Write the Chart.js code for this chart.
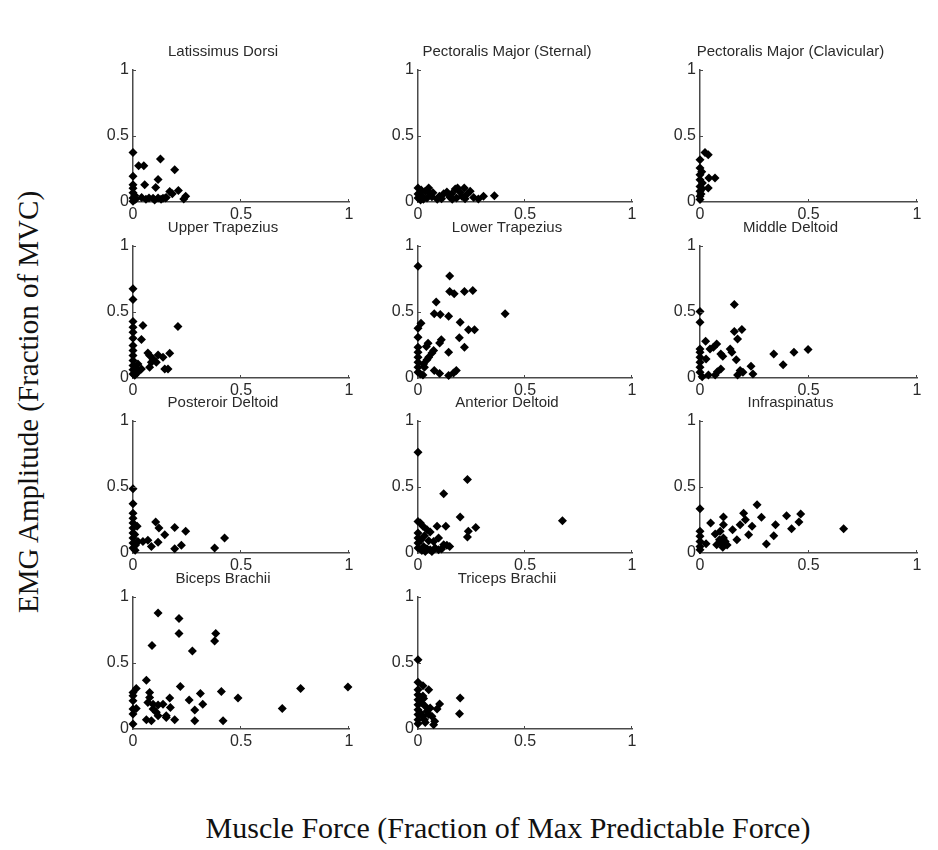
<!DOCTYPE html>
<html>
<head>
<meta charset="utf-8">
<script src="https://cdn.jsdelivr.net/npm/chart.js@4.4.0/dist/chart.umd.min.js"></script>
<style>
  body { margin: 0; background: #fff; }
  #page { position: relative; width: 938px; height: 850px; background: #fff; overflow: hidden; }
  #page canvas { position: absolute; }
  .axis-title {
    position: absolute;
    font-family: "Liberation Serif", "Times New Roman", serif;
    font-size: 30px;
    color: #111;
    white-space: nowrap;
    transform: translate(-50%, -50%);
  }
  #ylabel { left: 28px; top: 402px; font-size: 29px; transform: translate(-50%, -50%) rotate(-90deg); }
  #xlabel { left: 508px; top: 828px; }
</style>
</head>
<body>
<div id="page">
  <div class="axis-title" id="ylabel">EMG Amplitude (Fraction of MVC)</div>
  <div class="axis-title" id="xlabel">Muscle Force (Fraction of Max Predictable Force)</div>
</div>
<script>
// [force, emg] pairs for each muscle
const latissimusDorsi = [
  [0, 0.375], [0, 0.195], [0, 0.13], [0, 0.105], [0, 0.07], [0, 0.03], [0, 0.005],
  [0.026, 0.275], [0.05, 0.275], [0.127, 0.325], [0.054, 0.13], [0.116, 0.17],
  [0.105, 0.11], [0.193, 0.245], [0.17, 0.08], [0.182, 0.063], [0.21, 0.088],
  [0.244, 0.043], [0.235, 0.023], [0.04, 0.035], [0.074, 0.03], [0.093, 0.028],
  [0.116, 0.03], [0.139, 0.028], [0.154, 0.035], [0.012, 0.02], [0.06, 0.02],
  [0.1, 0.015], [0.13, 0.02], [0.008, 0.05], [0.15, 0.03]
];
const pectoralisSternal = [
  [0, 0.106], [0, 0.06], [0, 0.03], [0.008, 0.068], [0.019, 0.043], [0.034, 0.081],
  [0.05, 0.106], [0.057, 0.063], [0.042, 0.03], [0.065, 0.04], [0.1, 0.043],
  [0.12, 0.063], [0.135, 0.076], [0.148, 0.038], [0.158, 0.063], [0.174, 0.098],
  [0.185, 0.106], [0.197, 0.073], [0.205, 0.043], [0.216, 0.106], [0.231, 0.063],
  [0.244, 0.081], [0.282, 0.023], [0.306, 0.043], [0.357, 0.048], [0.012, 0.015],
  [0.025, 0.02], [0.09, 0.02], [0.11, 0.025], [0.16, 0.02], [0.18, 0.03],
  [0.22, 0.025], [0.26, 0.035], [0.015, 0.09], [0.07, 0.07]
];
const pectoralisClavicular = [
  [0, 0.32], [0.023, 0.375], [0.038, 0.358], [0, 0.257], [0, 0.207], [0, 0.169],
  [0, 0.118], [0, 0.081], [0, 0.043], [0, 0.018], [0.041, 0.181], [0.069, 0.181],
  [0.038, 0.106], [0.011, 0.143], [0.008, 0.23], [0.005, 0.06], [0.01, 0.1]
];
const upperTrapezius = [
  [0, 0.676], [0, 0.595], [0, 0.428], [0, 0.385], [0, 0.347], [0, 0.301], [0, 0.246],
  [0, 0.208], [0, 0.17], [0, 0.132], [0, 0.094], [0, 0.063], [0, 0.03],
  [0.046, 0.397], [0.039, 0.291], [0.208, 0.39], [0.069, 0.19], [0.077, 0.17],
  [0.085, 0.119], [0.077, 0.081], [0.093, 0.144], [0.116, 0.175], [0.139, 0.157],
  [0.17, 0.187], [0.108, 0.119], [0.147, 0.068], [0.162, 0.068], [0.039, 0.068],
  [0.023, 0.106], [0.012, 0.05], [0.01, 0.08], [0.008, 0.02], [0.02, 0.04]
];
const lowerTrapezius = [
  [0, 0.846], [0.148, 0.772], [0.148, 0.656], [0.169, 0.638], [0.217, 0.656],
  [0.256, 0.663], [0.085, 0.575], [0.076, 0.486], [0.104, 0.481], [0.143, 0.468],
  [0.407, 0.486], [0.197, 0.423], [0.014, 0.415], [0, 0.377], [0.236, 0.365],
  [0.264, 0.365], [0.193, 0.304], [0.109, 0.289], [0.101, 0.266], [0, 0.309],
  [0.047, 0.263], [0.039, 0.238], [0.217, 0.233], [0.073, 0.208], [0.065, 0.19],
  [0.143, 0.195], [0.05, 0.157], [0.042, 0.139], [0.026, 0.106], [0.03, 0.081],
  [0, 0.233], [0, 0.195], [0, 0.157], [0, 0.119], [0, 0.081], [0, 0.043],
  [0.076, 0.056], [0.101, 0.035], [0.179, 0.056], [0.166, 0.038], [0.143, 0.018],
  [0.023, 0.023], [0.011, 0.03]
];
const middleDeltoid = [
  [0, 0.504], [0, 0.423], [0.158, 0.557], [0.158, 0.352], [0.193, 0.367],
  [0.173, 0.296], [0.026, 0.278], [0.077, 0.258], [0.062, 0.233], [0.046, 0.22],
  [0.139, 0.22], [0.147, 0.195], [0.096, 0.182], [0.105, 0.165], [0.34, 0.182],
  [0.433, 0.195], [0.498, 0.215], [0.167, 0.139], [0.383, 0.101], [0.028, 0.144],
  [0.235, 0.089], [0.096, 0.068], [0.08, 0.048], [0.07, 0.023], [0.185, 0.056],
  [0.198, 0.043], [0.173, 0.023], [0.244, 0.03], [0, 0.22], [0, 0.195], [0, 0.157],
  [0, 0.119], [0, 0.081], [0, 0.043], [0.039, 0.023], [0.01, 0.01]
];
const posteriorDeltoid = [
  [0, 0.486], [0, 0.373], [0, 0.302], [0, 0.264], [0, 0.227], [0, 0.189], [0, 0.151],
  [0, 0.113], [0, 0.076], [0, 0.038], [0.019, 0.202], [0.105, 0.234], [0.12, 0.189],
  [0.147, 0.139], [0.193, 0.194], [0.244, 0.164], [0.023, 0.088], [0.046, 0.088],
  [0.069, 0.096], [0.085, 0.05], [0.116, 0.081], [0.193, 0.033], [0.224, 0.058],
  [0.378, 0.038], [0.424, 0.113], [0.01, 0.02], [0.012, 0.06], [0.008, 0.14]
];
const anteriorDeltoid = [
  [0, 0.763], [0.231, 0.557], [0.12, 0.448], [0.197, 0.272], [0.675, 0.244],
  [0.27, 0.194], [0.235, 0.164], [0.231, 0.121], [0.089, 0.202], [0.13, 0.202],
  [0, 0.239], [0.011, 0.227], [0.023, 0.202], [0.042, 0.176], [0.057, 0.159],
  [0, 0.151], [0, 0.113], [0, 0.076], [0, 0.038], [0.096, 0.113], [0.073, 0.088],
  [0.05, 0.093], [0.12, 0.063], [0.135, 0.058], [0.148, 0.05], [0.026, 0.05],
  [0.042, 0.033], [0.057, 0.025], [0.08, 0.038], [0.096, 0.025], [0.018, 0.018],
  [0.034, 0.012], [0.065, 0.012], [0.11, 0.03], [0.015, 0.1], [0.03, 0.13]
];
const infraspinatus = [
  [0, 0.335], [0, 0.164], [0, 0.126], [0, 0.088], [0, 0.05], [0, 0.025],
  [0.028, 0.07], [0.049, 0.227], [0.108, 0.272], [0.108, 0.214], [0.07, 0.144],
  [0.093, 0.164], [0.077, 0.063], [0.1, 0.07], [0.108, 0.113], [0.116, 0.088],
  [0.105, 0.043], [0.15, 0.176], [0.17, 0.1], [0.185, 0.214], [0.201, 0.302],
  [0.209, 0.252], [0.224, 0.139], [0.24, 0.202], [0.263, 0.365], [0.283, 0.27],
  [0.306, 0.068], [0.34, 0.131], [0.348, 0.214], [0.399, 0.282], [0.422, 0.184],
  [0.456, 0.234], [0.464, 0.295], [0.662, 0.184], [0.09, 0.1], [0.125, 0.06]
];
const bicepsBrachii = [
  [0.116, 0.879], [0.213, 0.837], [0.213, 0.724], [0.383, 0.724], [0.378, 0.666],
  [0.088, 0.633], [0.275, 0.59], [0.062, 0.369], [0.219, 0.322], [0.015, 0.307],
  [0, 0.276], [0, 0.251], [0, 0.214], [0, 0.151], [0, 0.113], [0, 0.038],
  [0.312, 0.269], [0.409, 0.284], [0.776, 0.307], [0.995, 0.319], [0.486, 0.234],
  [0.17, 0.234], [0.26, 0.219], [0.077, 0.276], [0.077, 0.239], [0.069, 0.201],
  [0.093, 0.188], [0.116, 0.181], [0.139, 0.188], [0.173, 0.163], [0.323, 0.188],
  [0.286, 0.143], [0.691, 0.156], [0.015, 0.156], [0.093, 0.151], [0.108, 0.126],
  [0.116, 0.1], [0.154, 0.1], [0.154, 0.088], [0.062, 0.07], [0.085, 0.063],
  [0.193, 0.07], [0.286, 0.063], [0.417, 0.063]
];
const tricepsBrachii = [
  [0, 0.525], [0, 0.354], [0.023, 0.328], [0.05, 0.298], [0, 0.298], [0, 0.26],
  [0, 0.222], [0, 0.184], [0, 0.146], [0, 0.109], [0, 0.071], [0, 0.04],
  [0.023, 0.25], [0.026, 0.232], [0.034, 0.172], [0.197, 0.235], [0.101, 0.189],
  [0.089, 0.152], [0.194, 0.116], [0.057, 0.159], [0.042, 0.134], [0.05, 0.109],
  [0.065, 0.096], [0.078, 0.058], [0.073, 0.033], [0.023, 0.096], [0.034, 0.05],
  [0.015, 0.2], [0.012, 0.12], [0.03, 0.07]
];

const muscleNames = [
  "Latissimus Dorsi", "Pectoralis Major (Sternal)", "Pectoralis Major (Clavicular)",
  "Upper Trapezius", "Lower Trapezius", "Middle Deltoid",
  "Posteroir Deltoid", "Anterior Deltoid", "Infraspinatus",
  "Biceps Brachii", "Triceps Brachii"
];
const muscleData = [
  latissimusDorsi, pectoralisSternal, pectoralisClavicular,
  upperTrapezius, lowerTrapezius, middleDeltoid,
  posteriorDeltoid, anteriorDeltoid, infraspinatus,
  bicepsBrachii, tricepsBrachii
];
const tickValues = [0, 0.5, 1];

// subplot grid (axes box in page pixels)
const colLeft = [133, 418, 700];
const colWidth = [216, 214, 217];
const rowTop = [70, 246, 421, 597];
const axesHeight = 132;
const yAxisWidth = 36, xAxisHeight = 24, titleSpace = 30, rightPad = 14;

const axisColor = "#4a4a4a";
const labelColor = "#2a2a2a";
const sansFont = "'Liberation Sans', Arial, sans-serif";

// small MATLAB-style ticks pointing into the plot
const inwardTicks = {
  id: "inwardTicks",
  afterDraw(chart) {
    const { ctx, chartArea } = chart;
    const x = chart.scales.x, y = chart.scales.y;
    ctx.save();
    ctx.strokeStyle = axisColor;
    ctx.lineWidth = 1;
    tickValues.slice(1).forEach(v => {
      const px = Math.round(x.getPixelForValue(v)) - 0.5;
      ctx.beginPath();
      ctx.moveTo(px, chartArea.bottom);
      ctx.lineTo(px, chartArea.bottom - 3);
      ctx.stroke();
      const py = Math.round(y.getPixelForValue(v)) + 0.5;
      ctx.beginPath();
      ctx.moveTo(chartArea.left, py);
      ctx.lineTo(chartArea.left + 3, py);
      ctx.stroke();
    });
    ctx.restore();
  }
};

function axisOptions(isX) {
  return {
    type: "linear",
    min: 0,
    max: 1,
    afterBuildTicks: scale => { scale.ticks = tickValues.map(v => ({ value: v })); },
    afterFit: scale => {
      if (isX) scale.height = xAxisHeight;
      else scale.width = yAxisWidth;
    },
    grid: { display: false, drawTicks: false },
    border: { display: true, color: axisColor, width: 1.5 },
    ticks: {
      padding: isX ? 3 : 4,
      color: labelColor,
      font: { family: sansFont, size: 16 },
      maxRotation: 0,
      autoSkip: false,
      callback: v => String(v)
    }
  };
}

const page = document.getElementById("page");
muscleData.forEach((points, i) => {
  const row = Math.floor(i / 3), col = i % 3;
  const canvas = document.createElement("canvas");
  const w = yAxisWidth + colWidth[col] + rightPad;
  const h = titleSpace + axesHeight + xAxisHeight;
  canvas.width = w;
  canvas.height = h;
  canvas.style.width = w + "px";
  canvas.style.height = h + "px";
  canvas.style.left = (colLeft[col] - yAxisWidth) + "px";
  canvas.style.top = (rowTop[row] - titleSpace) + "px";
  page.appendChild(canvas);

  new Chart(canvas, {
    type: "scatter",
    data: {
      datasets: [{
        data: points.map(([fx, ey]) => ({ x: fx, y: ey })),
        pointStyle: "rectRot",
        pointRadius: 4.5,
        pointBorderWidth: 0,
        backgroundColor: "#000",
        borderColor: "#000",
        clip: false
      }]
    },
    options: {
      responsive: false,
      animation: false,
      layout: { padding: { left: 0, right: rightPad, top: 0, bottom: 0 } },
      plugins: {
        legend: { display: false },
        tooltip: { enabled: false },
        title: {
          display: true,
          text: muscleNames[i],
          color: labelColor,
          font: { family: sansFont, size: 15, weight: "normal", lineHeight: 1.2 },
          padding: { top: 3, bottom: 9 }
        }
      },
      scales: { x: axisOptions(true), y: axisOptions(false) }
    },
    plugins: [inwardTicks]
  });
});
</script>
</body>
</html>
